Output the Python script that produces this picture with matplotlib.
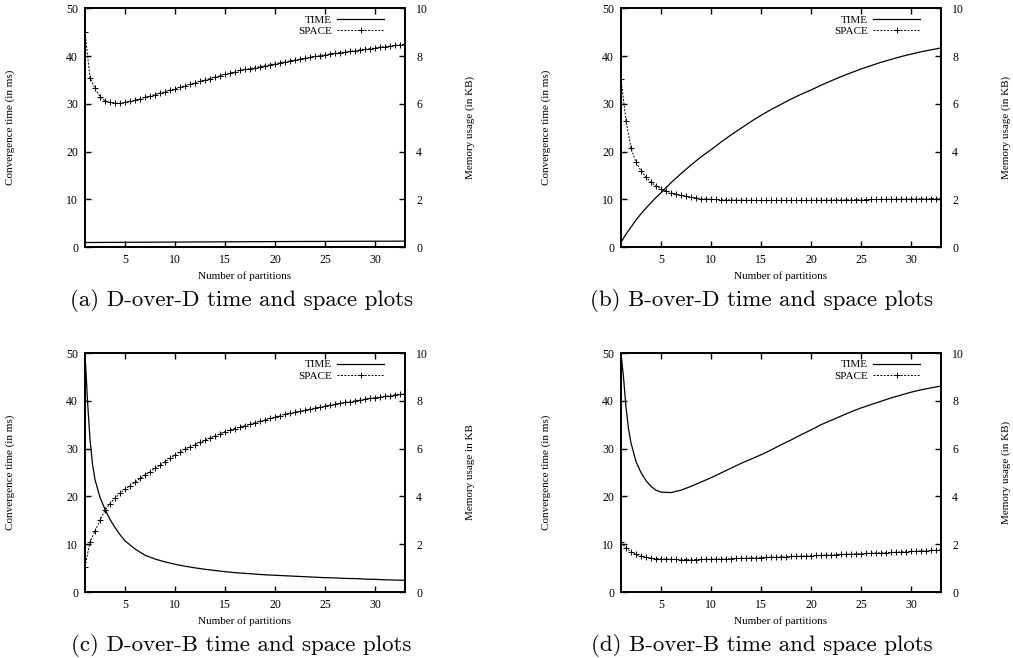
import numpy as np
import matplotlib
matplotlib.use('Agg')
import matplotlib.pyplot as plt

# x positions of the samples
x_time = [1, 1.25, 1.5, 1.75, 2, 2.5, 3, 3.5, 4, 4.5, 5,
          6, 7, 8, 9, 10, 11, 12, 13, 14, 15, 16, 17, 18, 19, 20,
          21, 22, 23, 24, 25, 26, 27, 28, 29, 30, 31, 32, 33]
x_space = np.arange(1, 33.01, 0.5)

# convergence time (ms), left axis
time_dd = [1.0, 1.0, 1.0, 1.0, 1.01, 1.01, 1.02, 1.02, 1.03, 1.03, 1.04,
           1.05, 1.06, 1.07, 1.08, 1.09, 1.1, 1.11, 1.12, 1.13, 1.14, 1.15, 1.16, 1.17, 1.18, 1.19,
           1.2, 1.21, 1.22, 1.22, 1.23, 1.24, 1.25, 1.25, 1.26, 1.27, 1.27, 1.28, 1.29]
time_bd = [1.0, 1.9, 2.7, 3.5, 4.2, 5.7, 7.0, 8.2, 9.3, 10.4, 11.4,
           13.5, 15.4, 17.2, 18.9, 20.4, 22.0, 23.5, 24.9, 26.3, 27.6, 28.8, 29.9, 31.0, 32.0, 32.9,
           33.9, 34.8, 35.7, 36.5, 37.3, 38.0, 38.7, 39.3, 39.9, 40.4, 40.9, 41.3, 41.7]
time_db = [50, 40, 32, 26.8, 23.5, 19.8, 17.3, 15.2, 13.5, 12.0, 10.7,
           9.0, 7.7, 6.9, 6.3, 5.8, 5.4, 5.05, 4.75, 4.5, 4.25, 4.05, 3.9, 3.75, 3.6, 3.5,
           3.4, 3.3, 3.2, 3.1, 3.0, 2.95, 2.85, 2.8, 2.7, 2.65, 2.55, 2.5, 2.45]
time_bb = [50, 45, 38.7, 34.2, 31.2, 27.3, 25.0, 23.3, 22.1, 21.3, 20.9,
           20.8, 21.3, 22.1, 23.0, 23.9, 24.9, 25.9, 26.9, 27.8, 28.7, 29.7, 30.8, 31.8, 32.9, 33.9,
           35.0, 35.9, 36.8, 37.7, 38.5, 39.2, 39.9, 40.6, 41.2, 41.8, 42.3, 42.7, 43.1]

# memory usage (KB), right axis, one value per half partition
space_dd = [9.0, 7.1, 6.65, 6.3, 6.13, 6.06, 6.03, 6.03, 6.06, 6.1,
            6.15, 6.21, 6.27, 6.33, 6.39, 6.45, 6.51, 6.57, 6.63, 6.69,
            6.76, 6.82, 6.88, 6.94, 7.0, 7.06, 7.12, 7.18, 7.24, 7.29,
            7.34, 7.4, 7.44, 7.48, 7.52, 7.56, 7.6, 7.64, 7.68, 7.72,
            7.76, 7.8, 7.84, 7.87, 7.91, 7.95, 7.99, 8.02, 8.06, 8.09,
            8.12, 8.15, 8.18, 8.2, 8.23, 8.26, 8.29, 8.31, 8.34, 8.37,
            8.4, 8.42, 8.45, 8.47, 8.5]
space_bd = [7.05, 5.3, 4.17, 3.55, 3.2, 2.93, 2.72, 2.57, 2.45, 2.36,
            2.28, 2.22, 2.17, 2.13, 2.09, 2.06, 2.04, 2.02, 2.01, 2.0,
            1.99, 1.985, 1.98, 1.975, 1.97, 1.968, 1.965, 1.963, 1.96, 1.96,
            1.96, 1.96, 1.96, 1.96, 1.96, 1.96, 1.96, 1.962, 1.964, 1.967,
            1.97, 1.973, 1.976, 1.979, 1.982, 1.985, 1.988, 1.991, 1.994, 1.997,
            2.0, 2.003, 2.006, 2.009, 2.012, 2.015, 2.018, 2.021, 2.024, 2.027,
            2.03, 2.033, 2.036, 2.038, 2.04]
space_db = [1.06, 2.1, 2.55, 3.0, 3.42, 3.7, 3.93, 4.13, 4.29, 4.45,
            4.6, 4.75, 4.89, 5.03, 5.17, 5.31, 5.45, 5.59, 5.73, 5.87,
            5.98, 6.08, 6.17, 6.26, 6.35, 6.44, 6.53, 6.62, 6.71, 6.78,
            6.84, 6.9, 6.96, 7.02, 7.08, 7.14, 7.2, 7.26, 7.32, 7.38,
            7.43, 7.48, 7.52, 7.56, 7.61, 7.66, 7.7, 7.74, 7.78, 7.82,
            7.86, 7.89, 7.93, 7.97, 8.0, 8.04, 8.07, 8.1, 8.13, 8.16,
            8.19, 8.22, 8.25, 8.27, 8.3]
space_bb = [2.08, 1.85, 1.68, 1.57, 1.5, 1.45, 1.42, 1.4, 1.39, 1.38,
            1.37, 1.365, 1.36, 1.36, 1.36, 1.36, 1.365, 1.37, 1.375, 1.38,
            1.385, 1.39, 1.4, 1.405, 1.41, 1.42, 1.425, 1.43, 1.44, 1.45,
            1.455, 1.46, 1.47, 1.48, 1.49, 1.495, 1.5, 1.51, 1.52, 1.53,
            1.535, 1.545, 1.555, 1.56, 1.57, 1.58, 1.59, 1.6, 1.605, 1.615,
            1.625, 1.635, 1.64, 1.65, 1.66, 1.67, 1.68, 1.69, 1.7, 1.71,
            1.72, 1.73, 1.74, 1.75, 1.76]

captions = ['(a) D-over-D time and space plots',
            '(b) B-over-D time and space plots',
            '(c) D-over-B time and space plots',
            '(d) B-over-B time and space plots']
right_labels = ['Memory usage (in KB)', 'Memory usage (in KB)',
                'Memory usage in KB', 'Memory usage (in KB)']

SERIF = ['Liberation Serif', 'DejaVu Serif']
CAPTION_FONT = ['cmr10', 'DejaVu Serif']


def draw_panel(fig, rect, time, space, caption, right_label, cap_xy):
    ax = fig.add_axes(rect)
    ax2 = ax.twinx()
    l1, = ax.plot(x_time, time, color='black', lw=0.9, label='TIME')
    l2, = ax2.plot(x_space, space, color='black', lw=0.7, ls=(0, (2, 1.5)),
                   marker='+', ms=4, mew=0.7, label='SPACE')

    ax.set_xlim(1, 33)
    ax.set_ylim(0, 50)
    ax2.set_ylim(0, 10)
    ax.set_xticks([5, 10, 15, 20, 25, 30])
    ax.set_yticks([0, 10, 20, 30, 40, 50])
    ax2.set_yticks([0, 2, 4, 6, 8, 10])

    ax.tick_params(axis='x', direction='in', top=True, length=4, width=1,
                   pad=5, labelsize=8.5)
    ax.tick_params(axis='y', direction='in', right=False, length=4, width=1,
                   pad=5, labelsize=8.5)
    ax2.tick_params(axis='y', direction='in', length=4, width=1,
                    pad=8, labelsize=8.5)
    for a in (ax, ax2):
        for sp in a.spines.values():
            sp.set_linewidth(1.3)
        for lab in a.get_xticklabels() + a.get_yticklabels():
            lab.set_family(SERIF)

    ax.set_xlabel('Number of partitions', family=SERIF, fontsize=8)
    ax.xaxis.set_label_coords(0.5, -0.1)
    ax.set_ylabel('Convergence time (in ms)', family=SERIF, fontsize=8)
    ax.yaxis.set_label_coords(-0.22, 0.5)
    ax2.set_ylabel(right_label, family=SERIF, fontsize=8)
    ax2.yaxis.set_label_coords(1.19, 0.5)

    ax2.legend([l1, l2], ['TIME', 'SPACE'], loc='upper right',
               bbox_to_anchor=(0.955, 1.0), frameon=False, markerfirst=False,
               handlelength=4.2, handletextpad=0.5, labelspacing=0.15,
               borderaxespad=0.2, prop={'family': SERIF, 'size': 8})

    fig.text(cap_xy[0], cap_xy[1], caption, family=CAPTION_FONT,
             fontsize=16.5, ha='center', va='center')


fig = plt.figure(figsize=(10.13, 6.58), dpi=100)
w, h = 0.3159, 0.3632
draw_panel(fig, [0.0839, 0.6242, w, h], time_dd, space_dd,
           captions[0], right_labels[0], (0.238, 0.543))
draw_panel(fig, [0.613, 0.6242, w, h], time_bd, space_bd,
           captions[1], right_labels[1], (0.752, 0.543))
draw_panel(fig, [0.0839, 0.1003, w, h], time_db, space_db,
           captions[2], right_labels[2], (0.238, 0.019))
draw_panel(fig, [0.613, 0.1003, w, h], time_bb, space_bb,
           captions[3], right_labels[3], (0.752, 0.019))

fig.savefig('out.png', dpi=100)
